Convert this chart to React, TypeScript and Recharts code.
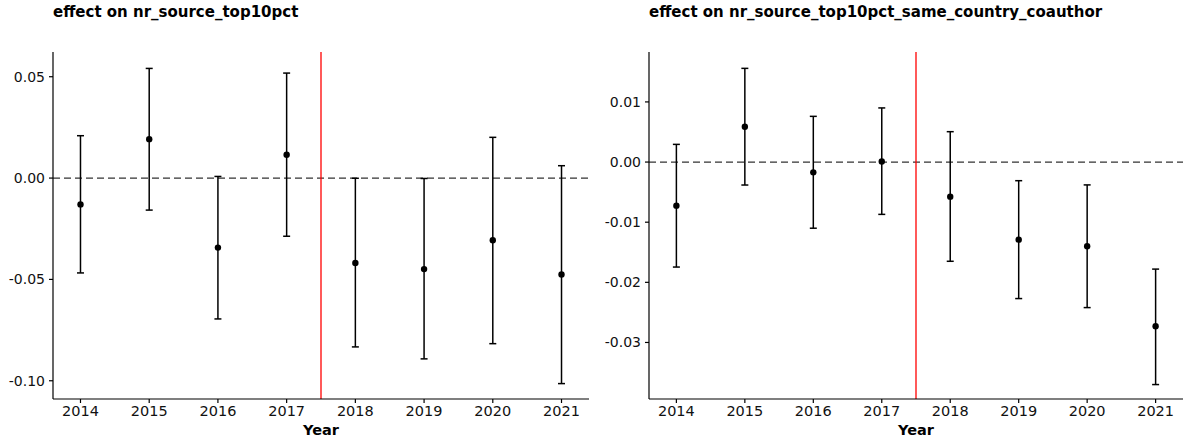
import React from "react";
import {
  ComposedChart,
  Scatter,
  ErrorBar,
  XAxis,
  YAxis,
  ReferenceLine,
} from "recharts";

const years = [2014, 2015, 2016, 2017, 2018, 2019, 2020, 2021];

// effect on nr_source_top10pct
const leftEst = [-0.013, 0.0192, -0.0343, 0.0115, -0.0419, -0.0449, -0.0307, -0.0476];
const leftLo = [-0.0468, -0.0158, -0.0695, -0.0287, -0.0833, -0.0892, -0.0817, -0.1014];
const leftHi = [0.0209, 0.0541, 0.0008, 0.0518, -0.0001, -0.0002, 0.0201, 0.0061];
const leftTicks = [-0.1, -0.05, 0, 0.05];

// effect on nr_source_top10pct_same_country_coauthor
const rightEst = [-0.00725, 0.00588, -0.00171, 0.0001, -0.00575, -0.0129, -0.014, -0.0273];
const rightLo = [-0.01746, -0.00382, -0.011, -0.0087, -0.0165, -0.0227, -0.0242, -0.037];
const rightHi = [0.00294, 0.01558, 0.0076, 0.009, 0.00505, -0.0031, -0.0038, -0.0178];
const rightTicks = [-0.03, -0.02, -0.01, 0, 0.01];

const treatYear = 2017.5;
const font = "DejaVu Sans";

function build(est: number[], lo: number[], hi: number[]) {
  return years.map((y, i) => ({
    year: y,
    est: est[i],
    err: [est[i] - lo[i], hi[i] - est[i]],
  }));
}

const Dot = (p: any) => <circle cx={p.cx} cy={p.cy} r={3.2} fill="#000" />;

function Panel({
  title,
  data,
  domain,
  ticks,
  left,
  width,
  rightMargin,
}: {
  title: string;
  data: any[];
  domain: [number, number];
  ticks: number[];
  left: number;
  width: number;
  rightMargin: number;
}) {
  return (
    <div style={{ position: "absolute", left, top: 0, width, height: 438 }}>
      <div
        style={{
          position: "absolute",
          left: 53,
          top: 3,
          fontFamily: font,
          fontWeight: "bold",
          fontSize: 15,
          color: "#000",
          whiteSpace: "nowrap",
        }}
      >
        {title}
      </div>
      <ComposedChart
        width={width}
        height={438}
        data={data}
        margin={{ top: 52, right: rightMargin, bottom: 0, left: 0 }}
      >
        <XAxis
          dataKey="year"
          type="number"
          domain={[2013.6, 2021.4]}
          ticks={years}
          allowDataOverflow
          height={39}
          stroke="#000"
          strokeWidth={1.2}
          tickSize={4}
          tickMargin={3}
          tick={{ fill: "#111", fontSize: 14.5, fontFamily: font }}
          label={{
            value: "Year",
            position: "insideBottom",
            offset: 3.5,
            style: { fontFamily: font, fontWeight: "bold", fontSize: 14.5, fill: "#000" },
          }}
        />
        <YAxis
          type="number"
          domain={domain}
          ticks={ticks}
          allowDataOverflow
          width={53}
          stroke="#000"
          strokeWidth={1.2}
          tickSize={4}
          tickMargin={4}
          tickFormatter={(v: number) => v.toFixed(2)}
          tick={{ fill: "#111", fontSize: 14, fontFamily: font }}
        />
        <ReferenceLine y={0} stroke="#333" strokeDasharray="7 4" strokeWidth={1.3} />
        <ReferenceLine x={treatYear} stroke="#ff0000" strokeWidth={1.3} />
        <Scatter dataKey="est" shape={Dot} isAnimationActive={false}>
          <ErrorBar
            dataKey="err"
            direction="y"
            width={3.5}
            stroke="#000"
            strokeWidth={1.5}
            isAnimationActive={false}
          />
        </Scatter>
      </ComposedChart>
    </div>
  );
}

export default function App() {
  return (
    <div
      style={{
        position: "absolute",
        left: 0,
        top: 0,
        width: 1183,
        height: 438,
        background: "#fff",
        overflow: "hidden",
      }}
    >
      <Panel
        title="effect on nr_source_top10pct"
        data={build(leftEst, leftLo, leftHi)}
        domain={[-0.109, 0.0622]}
        ticks={leftTicks}
        left={0}
        width={596}
        rightMargin={7}
      />
      <Panel
        title="effect on nr_source_top10pct_same_country_coauthor"
        data={build(rightEst, rightLo, rightHi)}
        domain={[-0.0394, 0.0183]}
        ticks={rightTicks}
        left={596}
        width={587}
        rightMargin={0}
      />
    </div>
  );
}
